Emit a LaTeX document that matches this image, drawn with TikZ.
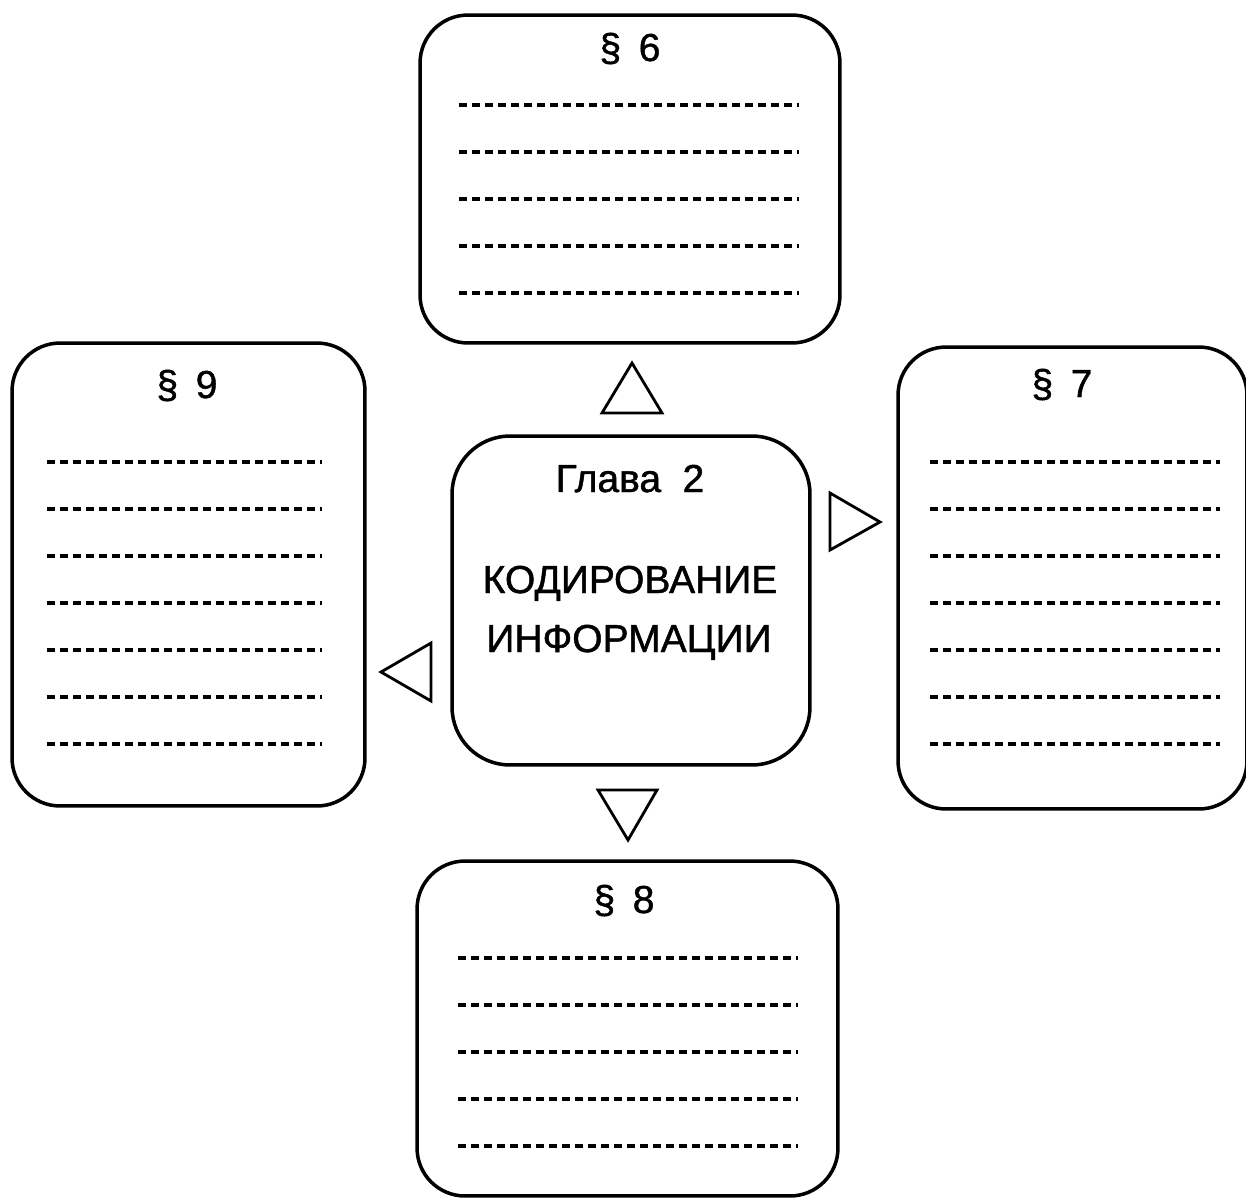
\documentclass[tikz,border=0pt]{standalone}
\usepackage{fontspec}
\setmainfont{Liberation Sans}
\newfontfamily\headfont[FakeBold=1.2]{Liberation Sans}

\tikzset{
  card/.style={draw, rectangle, rounded corners=0.96cm, line width=2pt},
  head/.style={font=\headfont\fontsize{22.2}{26}\selectfont, anchor=base, inner sep=0pt},
  blank/.style={line width=2pt, dash pattern=on 4.4pt off 3pt},
  pointer/.style={line width=1.6pt, line join=miter}
}

\begin{document}
\begin{tikzpicture}[x=0.02cm, y=-0.02cm]
    \useasboundingbox (0,0) rectangle (1246,1197);

    % Central chapter
    \node[card, rounded corners=1.16cm, minimum width=7.16cm, minimum height=6.58cm] (chapter) at (631,600.5) {};
    \node[head] (chaptitle) at (630,492) {Глава\hspace{0.55em}2};
    \node[head] (topic1) at (630,593) {КОДИРОВАНИЕ};
    \node[head] (topic2) at (629,652) {ИНФОРМАЦИИ};

    % Paragraph cards
    \node[card, minimum width=8.4cm, minimum height=6.56cm] (par6) at (630,179) {};
    \node[card, minimum width=6.98cm, minimum height=9.24cm] (par7) at (1072.5,578) {};
    \node[card, minimum width=8.42cm, minimum height=6.7cm] (par8) at (627.5,1028.5) {};
    \node[card, minimum width=7.06cm, minimum height=9.26cm] (par9) at (188.5,574.5) {};

    \node[head] (title6) at (630,61) {§\hspace{0.45em}6};
    \node[head] (title7) at (1062,397) {§\hspace{0.45em}7};
    \node[head] (title8) at (624,913) {§\hspace{0.45em}8};
    \node[head] (title9) at (187,398) {§\hspace{0.45em}9};

    % Blank lines
    \foreach \y in {105,152,...,294} \draw[blank] (459,\y) -- (799,\y);
    \foreach \y in {462,509,...,745} \draw[blank] (930,\y) -- (1220,\y);
    \foreach \y in {958,1005,...,1147} \draw[blank] (458,\y) -- (798,\y);
    \foreach \y in {462,509,...,745} \draw[blank] (47,\y) -- (322,\y);

    % Triangles
    \draw[pointer] (602,413) -- (662,413) -- (632,363) -- cycle;
    \draw[pointer] (830,493) -- (830,550) -- (880,522) -- cycle;
    \draw[pointer] (598,790) -- (657,790) -- (628,840) -- cycle;
    \draw[pointer] (431,643) -- (431,701) -- (381,672) -- cycle;

\end{tikzpicture}
\end{document}
